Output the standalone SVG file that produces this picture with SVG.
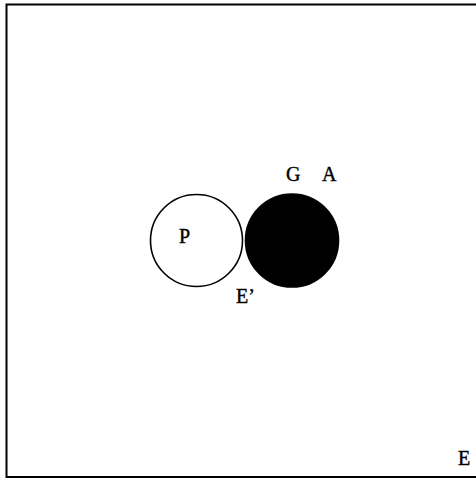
<svg xmlns="http://www.w3.org/2000/svg" width="476" height="479" viewBox="0 0 476 479">
  <style>
    .lbl { font-family: "Liberation Serif", "Times New Roman", serif; font-size: 20px; fill: #000; stroke: #000; stroke-width: 0.4; }
    .ring { stroke: #000; stroke-width: 1.6; }
  </style>
  <rect width="476" height="479" fill="#fff"/>
  <!-- outer frame (right side runs past the edge) -->
  <path d="M480 4.5 H6.5 V477 H480" fill="none" stroke="#000" stroke-width="2"/>
  <g id="P">
    <circle class="ring" cx="196.5" cy="240.5" r="46" fill="#fff"/>
    <text class="lbl" x="179" y="243">P</text>
  </g>
  <g id="GA">
    <circle class="ring" cx="292" cy="240.5" r="46.5" fill="#000"/>
    <text class="lbl" x="286" y="181">G</text>
    <text class="lbl" x="322" y="181">A</text>
  </g>
  <g id="Eprime">
    <text class="lbl" x="236" y="303">E’</text>
  </g>
  <g id="E">
    <text class="lbl" x="458" y="465">E</text>
  </g>
</svg>
